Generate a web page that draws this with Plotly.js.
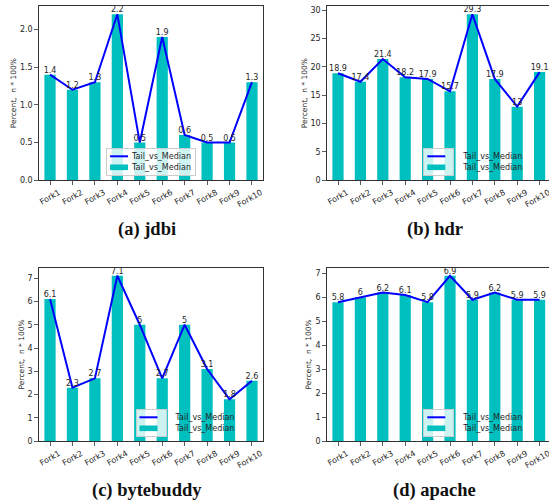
<!DOCTYPE html>
<html>
<head>
<meta charset="utf-8">
<script src="https://cdn.plot.ly/plotly-3.0.1.min.js"></script>
<style>
html,body{margin:0;padding:0;overflow:hidden;background:#fff;}
#chart{width:556px;height:504px;}
</style>
</head>
<body>
<div id="chart"></div>
<script>
const forks = ["Fork1","Fork2","Fork3","Fork4","Fork5","Fork6","Fork7","Fork8","Fork9","Fork10"];
const jdbi = [1.4, 1.2, 1.3, 2.2, 0.5, 1.9, 0.6, 0.5, 0.5, 1.3];
const hdr = [18.9, 17.4, 21.4, 18.2, 17.9, 15.7, 29.3, 17.9, 13, 19.1];
const bytebuddy = [6.1, 2.3, 2.7, 7.1, 5, 2.7, 5, 3.1, 1.8, 2.6];
const apache = [5.8, 6, 6.2, 6.1, 5.8, 6.9, 5.9, 6.2, 5.9, 5.9];
const captions = ["(a) jdbi", "(b) hdr", "(c) bytebuddy", "(d) apache"];
const seriesName = "Tail_vs_Median";
const yTitle = "Percent,  n * 100%";

const W = 556, H = 504;
const FS = 8;
const TXT = "#262626";
const FONT = "DejaVu Sans";

const panels = [
  {data: jdbi, dtick: 0.5, fmt: ".1f", x0: 38.8, x1: 263.2, top: 6, bot: 180.3, ytx: 13},
  {data: hdr, dtick: 5, fmt: "", x0: 326.8, x1: 550.8, top: 6, bot: 180.3, ytx: 304},
  {data: bytebuddy, dtick: 1, fmt: "", x0: 38.8, x1: 263.2, top: 267.5, bot: 441.3, ytx: 21},
  {data: apache, dtick: 1, fmt: "", x0: 326.8, x1: 550.8, top: 267.5, bot: 441.3, ytx: 308}
];

const traces = [];
const layout = {
  width: W, height: H,
  margin: {l: 0, r: 0, t: 0, b: 0},
  paper_bgcolor: "#fff", plot_bgcolor: "#fff",
  font: {family: FONT, size: FS, color: TXT},
  bargap: 0.5,
  annotations: []
};

panels.forEach((p, i) => {
  const n = i === 0 ? "" : String(i + 1);
  const xa = "x" + n, ya = "y" + n;
  const lg = "legend" + n;
  traces.push({
    type: "scatter", mode: "lines", x: forks, y: p.data, name: seriesName,
    xaxis: xa, yaxis: ya, legend: lg,
    line: {color: "#0000ff", width: 2}
  });
  traces.push({
    type: "bar", x: forks, y: p.data, name: seriesName,
    xaxis: xa, yaxis: ya, legend: lg,
    marker: {color: "#00bfbf", line: {width: 0}}
  });
  traces.push({
    type: "scatter", mode: "text", x: forks, y: p.data,
    text: p.data.map(String), textposition: "top center",
    textfont: {family: FONT, size: FS, color: TXT},
    xaxis: xa, yaxis: ya, showlegend: false, cliponaxis: false, hoverinfo: "skip"
  });
  const ymax = Math.max(...p.data) * 1.05;
  layout["xaxis" + n] = {
    domain: [p.x0 / W, p.x1 / W], anchor: ya,
    type: "category", range: [-0.5, 9.5],
    showline: true, linecolor: "#333", linewidth: 1, mirror: true,
    ticks: "outside", ticklen: 3.5, tickcolor: "#333", tickwidth: 0.8,
    tickangle: -30, ticklabelshift: 9,
    tickfont: {family: FONT, size: FS, color: TXT},
    showgrid: false, zeroline: false, fixedrange: true
  };
  layout["yaxis" + n] = {
    domain: [(H - p.bot) / H, (H - p.top) / H], anchor: xa,
    range: [0, ymax], dtick: p.dtick, tick0: 0, tickformat: p.fmt,
    showline: true, linecolor: "#333", linewidth: 1, mirror: true,
    ticks: "outside", ticklen: 3.5, tickcolor: "#333", tickwidth: 0.8,
    tickfont: {family: FONT, size: FS, color: TXT},
    showgrid: false, zeroline: false, fixedrange: true
  };
  layout[lg] = {
    x: ((p.x0 + p.x1) / 2) / W, xanchor: "center",
    y: (H - (p.bot - 4)) / H, yanchor: "bottom",
    bgcolor: "rgba(255,255,255,0.8)", bordercolor: "#cccccc", borderwidth: 1,
    font: {family: FONT, size: FS, color: TXT},
    itemwidth: 30, tracegroupgap: 0
  };
  layout.annotations.push({
    text: yTitle, xref: "paper", yref: "paper",
    x: p.ytx / W, y: (H - (p.top + p.bot) / 2) / H, textangle: -90,
    xanchor: "center", yanchor: "middle", showarrow: false,
    font: {family: FONT, size: 7.5, color: TXT}
  });
  layout.annotations.push({
    text: "<b>" + captions[i] + "</b>", xref: "paper", yref: "paper",
    x: ((p.x0 + p.x1) / 2 - 4) / W, y: (H - (p.bot + 49)) / H,
    xanchor: "center", yanchor: "middle", showarrow: false,
    font: {family: "Liberation Serif", size: 18.5, color: "#111"}
  });
});

function parseTr(s) {
  const m = /translate\(\s*([-\d.e]+)[ ,]+([-\d.e]+)\s*\)/.exec(s || "");
  return m ? [parseFloat(m[1]), parseFloat(m[2])] : [0, 0];
}

Plotly.newPlot("chart", traces, layout, {displayModeBar: false, staticPlot: true}).then(gd => {
  ["legend", "legend2", "legend3", "legend4"].forEach(id => {
    const g = gd.querySelector("g." + id);
    if (!g) return;
    const bg = g.querySelector("rect.bg");
    const oldW = parseFloat(bg.getAttribute("width"));
    const oldH = parseFloat(bg.getAttribute("height"));
    const items = g.querySelectorAll("g.traces");
    let textW = 0;
    items.forEach((it, k) => {
      it.setAttribute("transform", "translate(0," + (8 + k * 11) + ")");
      const line = it.querySelector(".legendlines path");
      if (line) line.setAttribute("d", "M4,0h18");
      it.querySelectorAll(".legendpoints path").forEach(pth => {
        pth.setAttribute("d", "M9,2.8H-9V-2.8H9Z");
        pth.setAttribute("transform", "translate(13,0)");
      });
      const t = it.querySelector("text.legendtext");
      if (t) {
        t.setAttribute("x", "26");
        textW = Math.max(textW, t.getComputedTextLength());
      }
    });
    const newW = 26 + textW + 4;
    const newH = 27;
    bg.setAttribute("width", newW);
    bg.setAttribute("height", newH);
    const tr = parseTr(g.getAttribute("transform"));
    g.setAttribute("transform", "translate(" + (tr[0] + (oldW - newW) / 2) + "," + (tr[1] + (oldH - newH)) + ")");
    const sb = g.querySelector(".scrollbox");
    if (sb) sb.removeAttribute("clip-path");
  });
});
</script>
</body>
</html>
